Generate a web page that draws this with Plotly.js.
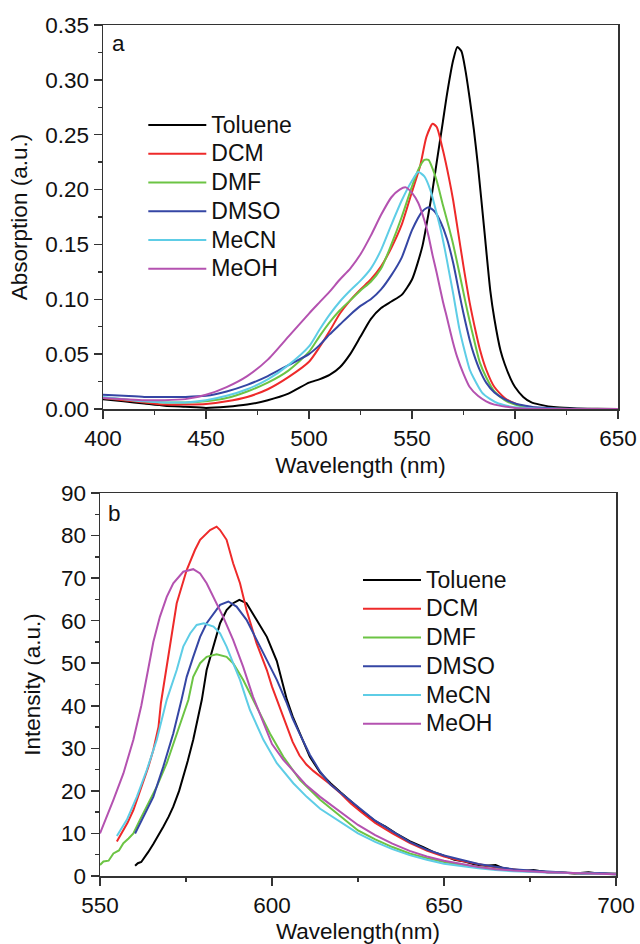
<!DOCTYPE html>
<html>
<head>
<meta charset="utf-8">
<script src="https://cdn.plot.ly/plotly-3.0.1.min.js"></script>
<style>
html,body{margin:0;padding:0;background:#fff;}
#chart{width:640px;height:944px;}
/* Legend entries in the original are set a little larger than their row spacing allows in Plotly */
#chart .legendtext, #chart .legend2text{font-size:23px !important;}
#chart .infolayer .scrollbox, #chart .infolayer g[class^="legend"]{clip-path:none !important;}
</style>
</head>
<body>
<div id="chart"></div>
<script>
// ---------- Panel a: absorption ----------
const solvents = ["Toluene", "DCM", "DMF", "DMSO", "MeCN", "MeOH"];
const colors = ["#000000", "#ee2a2a", "#6cc444", "#3546a4", "#5ecde6", "#b452b0"];

const absTolueneX = [400,410,420,430,440,450,460,470,480,490,500,505,510,515,520,525,530,535,540,545,550,555,558,560,562,565,567,570,572,574,576,578,580,582,585,588,590,593,595,598,600,604,608,612,620,630,640,650];
const absTolueneY = [0.009,0.007,0.005,0.003,0.002,0.001,0.002,0.004,0.008,0.014,0.024,0.027,0.031,0.038,0.050,0.066,0.082,0.092,0.098,0.104,0.118,0.148,0.178,0.200,0.225,0.262,0.287,0.318,0.330,0.326,0.308,0.283,0.255,0.222,0.165,0.108,0.082,0.053,0.041,0.027,0.020,0.011,0.006,0.004,0.0015,0.0005,0.0002,0];

const absDCMX = [400,410,420,430,440,450,460,470,480,490,500,505,510,515,520,525,530,535,540,545,550,554,557,560,562,565,568,570,572,575,578,581,583,586,590,595,600,605,610,620,650];
const absDCMY = [0.010,0.008,0.006,0.004,0.004,0.0045,0.007,0.011,0.018,0.029,0.043,0.056,0.071,0.087,0.099,0.109,0.118,0.130,0.147,0.168,0.198,0.222,0.248,0.260,0.257,0.236,0.210,0.190,0.166,0.130,0.097,0.070,0.054,0.036,0.020,0.010,0.005,0.002,0.001,0.0003,0];

const absDMFX = [400,410,420,430,440,450,460,470,480,490,500,505,510,515,520,525,530,535,540,545,550,553,556,558,560,562,565,568,570,573,576,578,580,583,586,590,595,600,605,610,620,650];
const absDMFY = [0.010,0.009,0.007,0.006,0.006,0.007,0.010,0.016,0.024,0.035,0.052,0.066,0.079,0.090,0.099,0.108,0.116,0.128,0.150,0.175,0.203,0.218,0.227,0.227,0.219,0.208,0.186,0.165,0.150,0.124,0.097,0.080,0.064,0.042,0.029,0.016,0.008,0.004,0.002,0.001,0.0003,0];

const absDMSOX = [400,410,420,430,440,450,460,470,480,490,500,505,510,515,520,525,530,535,540,545,550,555,558,561,564,567,570,573,575,578,580,583,586,590,594,600,605,610,620,650];
const absDMSOY = [0.013,0.012,0.011,0.011,0.011,0.012,0.016,0.022,0.030,0.040,0.050,0.058,0.068,0.077,0.086,0.094,0.100,0.109,0.122,0.138,0.163,0.180,0.184,0.180,0.170,0.155,0.133,0.105,0.087,0.063,0.050,0.035,0.024,0.015,0.010,0.005,0.003,0.0015,0.0005,0];

const absMeCNX = [400,410,420,430,440,450,460,470,480,490,500,505,510,515,520,525,530,535,540,545,550,553,556,559,562,564,566,568,570,573,575,578,580,584,588,592,596,600,610,650];
const absMeCNY = [0.011,0.009,0.007,0.006,0.006,0.008,0.012,0.018,0.027,0.040,0.057,0.072,0.086,0.098,0.108,0.117,0.128,0.145,0.168,0.190,0.208,0.216,0.212,0.199,0.178,0.163,0.145,0.125,0.105,0.073,0.057,0.036,0.028,0.015,0.009,0.005,0.003,0.0015,0.0005,0];

const absMeOHX = [400,410,420,430,440,450,460,470,480,490,500,505,510,515,520,525,530,535,540,544,547,550,553,556,558,560,562,565,567,570,572,575,578,582,586,590,596,600,610,650];
const absMeOHY = [0.010,0.009,0.008,0.008,0.009,0.013,0.020,0.030,0.045,0.066,0.087,0.097,0.107,0.118,0.128,0.141,0.158,0.177,0.193,0.200,0.202,0.197,0.188,0.172,0.158,0.140,0.124,0.098,0.083,0.060,0.047,0.032,0.020,0.012,0.007,0.004,0.002,0.001,0.0003,0];

// ---------- Panel b: emission ----------
const emTolueneX = [560.2,561,562,563,564,565.5,567,568.4,570,571.3,573,574.2,575.5,577.1,578.5,579.6,581,583,584.9,586.8,588.7,590.5,592.6,595.5,598.5,601.4,603,604.3,606,608.1,611,614,617,620,623,626,630,633,636,640,644,647,650,653,656,659,662,665,667,670,673,676,680,684,688,692,696,700];
const emTolueneY = [2.4,3.0,3.3,4.6,5.6,7.5,9.5,11.6,14,16.3,20,23.3,27,32,37,41.4,48.4,53.9,59.4,62.5,64.1,64.9,64.1,60.2,56.2,50.5,45.5,41.5,37.5,33.5,28,24.3,21.8,19.6,17.5,15.4,12.9,11.6,10,8.2,6.8,5.6,4.8,3.8,3.4,2.7,2.4,2.6,1.9,1.6,1.2,1.4,0.9,0.8,0.6,0.9,0.5,0.4];

const emDCMX = [554.9,556.8,558,559.7,561,562.6,564,565.5,567,567.7,569.9,572.3,575.2,577.6,579.1,582,583.9,584.9,586.8,588.7,590.7,592.6,595.5,598.5,600,602,604,606,608,610,612,614,617,620,623,626,630,635,640,645,650,655,660,665,670,675,680,690,700];
const emDCMY = [8.1,10.8,12.5,15.5,18.5,21.8,25.5,29.6,35,40.6,52.3,64.1,71.9,76.6,79,81.3,82.1,81.3,79,73.5,68.8,62.5,54.7,48.4,44.5,40,35.5,31.5,28.3,26.2,24.7,23.5,21.5,19.4,17,15,12.5,10,7.8,6,4.6,3.6,2.8,2.0,1.5,1.2,0.9,0.6,0.5];

const emDMFX = [550,551,552.5,553.9,555.5,556.8,558.3,559.7,561.5,563.6,566.5,569.4,572.3,575.7,577.1,579.1,581,583.9,586.8,588.7,591.6,594.5,595.5,599.4,603.3,608.1,614,620,625,630,635,640,645,650,655,660,665,670,680,690,700];
const emDMFY = [2.6,3.4,3.6,5.3,6.0,7.7,8.8,10,13,16.3,21,26.5,33.5,41.4,46.8,50,51.5,52.1,51.5,50,46.1,41.4,39.8,33.5,28,22.6,17.9,13.9,10.7,8.6,6.8,5.3,4.2,3.3,2.6,2.1,1.6,1.3,0.9,0.6,0.5];

const emDMSOX = [560.2,562.6,565.5,568.4,571.3,573.7,575.2,577.1,579.1,581,583,584.9,587.3,589.7,592.6,595.5,598.5,601.4,604.3,606,608,611,614,617,620,623,626,630,635,640,645,650,655,660,665,670,675,680,685,690,695,700];
const emDMSOY = [10,13.9,18.6,25.7,33.5,41.4,46.8,51.5,56.2,59.4,61.7,63.7,64.5,63.3,60.2,55.5,50.8,46.1,40.6,37,33.5,28.5,24.5,21.5,19.5,17.5,15.5,13,10.5,8,6.2,4.8,3.8,2.8,2.2,1.6,1.3,1.0,0.8,0.6,0.7,0.5];

const emMeCNX = [554.9,557.8,560.7,563.6,566.5,569.4,572.3,574.2,576.2,578.1,580.2,583,584.9,586.8,588.7,590.7,592.6,593.6,597.5,601.4,606.2,610.1,614,620,625,630,635,640,645,650,655,660,665,670,680,690,700];
const emMeCNY = [9.4,13.2,18.6,24.9,32,41.4,48.4,53.9,57,59,59.4,58.6,57,53.9,50,46.1,41.4,39,32,26.5,21.8,18.6,15.8,12.6,10.0,8.0,6.3,4.9,3.8,2.9,2.3,1.8,1.4,1.1,0.8,0.6,0.4];

const emMeOHX = [550,552,553.9,556.8,559.7,562,563.6,565.5,567.4,569.4,571.3,574.2,577.1,579.1,581,583,585.8,588.7,591.6,594.5,597.5,600,603.3,607.2,610,614,620,625,630,635,640,645,650,655,660,665,670,680,690,700];
const emMeOHY = [10,14,17.9,24.1,32,40,47,55,60.9,65.6,68.8,71.5,72.1,71.1,68.8,65.6,60.9,55.5,49.2,42.1,36,31,27.3,23.8,21.3,18.6,15.0,12.0,9.6,7.6,5.9,4.6,3.6,2.8,2.1,1.6,1.3,0.9,0.6,0.4];

const absX = [absTolueneX, absDCMX, absDMFX, absDMSOX, absMeCNX, absMeOHX];
const absY = [absTolueneY, absDCMY, absDMFY, absDMSOY, absMeCNY, absMeOHY];
const emX = [emTolueneX, emDCMX, emDMFX, emDMSOX, emMeCNX, emMeOHX];
const emY = [emTolueneY, emDCMY, emDMFY, emDMSOY, emMeCNY, emMeOHY];

const FONT = "Arial, 'Liberation Sans', sans-serif";
const traces = [];
solvents.forEach((s, i) => {
  traces.push({x: absX[i], y: absY[i], name: s, type: 'scatter', mode: 'lines',
    line: {color: colors[i], width: 2, shape: 'spline', smoothing: 0.6},
    xaxis: 'x', yaxis: 'y', legend: 'legend'});
});
solvents.forEach((s, i) => {
  traces.push({x: emX[i], y: emY[i], name: s, type: 'scatter', mode: 'lines',
    line: {color: colors[i], width: 2, shape: 'linear'},
    xaxis: 'x2', yaxis: 'y2', legend: 'legend2'});
});

const W = 640, H = 944;
const axCommon = {
  showline: true, mirror: true, linecolor: '#333', linewidth: 1.5,
  ticks: 'outside', ticklen: 8, tickwidth: 1.5, tickcolor: '#333',
  showgrid: false, zeroline: false, automargin: false,
  tickfont: {family: FONT, size: 22.5, color: '#111'},
};
const titleFont = {family: FONT, size: 22.5, color: '#111'};
const minorTicks = (d) => ({dtick: d, ticks: 'outside', ticklen: 4, tickwidth: 1.5, tickcolor: '#333'});
const legendCommon = {xanchor: 'left', yanchor: 'top', bgcolor: 'rgba(0,0,0,0)',
  font: {family: FONT, size: 19.8, color: '#111'}, itemwidth: 58, tracegroupgap: 0, borderwidth: 0};
const layout = {
  width: W, height: H,
  margin: {l: 0, r: 0, t: 0, b: 0},
  paper_bgcolor: '#fff', plot_bgcolor: '#fff',
  font: {family: FONT, size: 22, color: '#111'},
  xaxis: Object.assign({}, axCommon, {
    domain: [103/W, 618/W], anchor: 'y', range: [400, 650], tick0: 400, dtick: 50,
    minor: minorTicks(25),
    title: {text: 'Wavelength (nm)', font: titleFont, standoff: 7}
  }),
  yaxis: Object.assign({}, axCommon, {
    domain: [1 - 409/H, 1 - 25/H], anchor: 'x', range: [0, 0.35], tick0: 0, dtick: 0.05, tickformat: '.2f',
    minor: minorTicks(0.025),
    title: {text: 'Absorption (a.u.)', font: titleFont, standoff: 11}
  }),
  xaxis2: Object.assign({}, axCommon, {
    domain: [100/W, 616/W], anchor: 'y2', range: [550, 700], tick0: 550, dtick: 50,
    minor: minorTicks(25),
    title: {text: 'Wavelength(nm)', font: titleFont, standoff: 7}
  }),
  yaxis2: Object.assign({}, axCommon, {
    domain: [1 - 876/H, 1 - 493/H], anchor: 'x2', range: [0, 90], tick0: 0, dtick: 10,
    minor: minorTicks(5),
    title: {text: 'Intensity (a.u.)', font: titleFont, standoff: 14}
  }),
  legend: Object.assign({}, legendCommon, {x: 143.3/W, y: 1 - 105.6/H}),
  legend2: Object.assign({}, legendCommon, {x: 358/W, y: 1 - 560.6/H}),
  annotations: [
    {text: 'a', xref: 'paper', yref: 'paper', x: 110/W, y: 1 - 43/H, xanchor: 'left', yanchor: 'middle', showarrow: false, font: titleFont},
    {text: 'b', xref: 'paper', yref: 'paper', x: 106/W, y: 1 - 513/H, xanchor: 'left', yanchor: 'middle', showarrow: false, font: titleFont}
  ],
  showlegend: true
};
Plotly.newPlot('chart', traces, layout, {staticPlot: true, displayModeBar: false});
</script>
</body>
</html>
